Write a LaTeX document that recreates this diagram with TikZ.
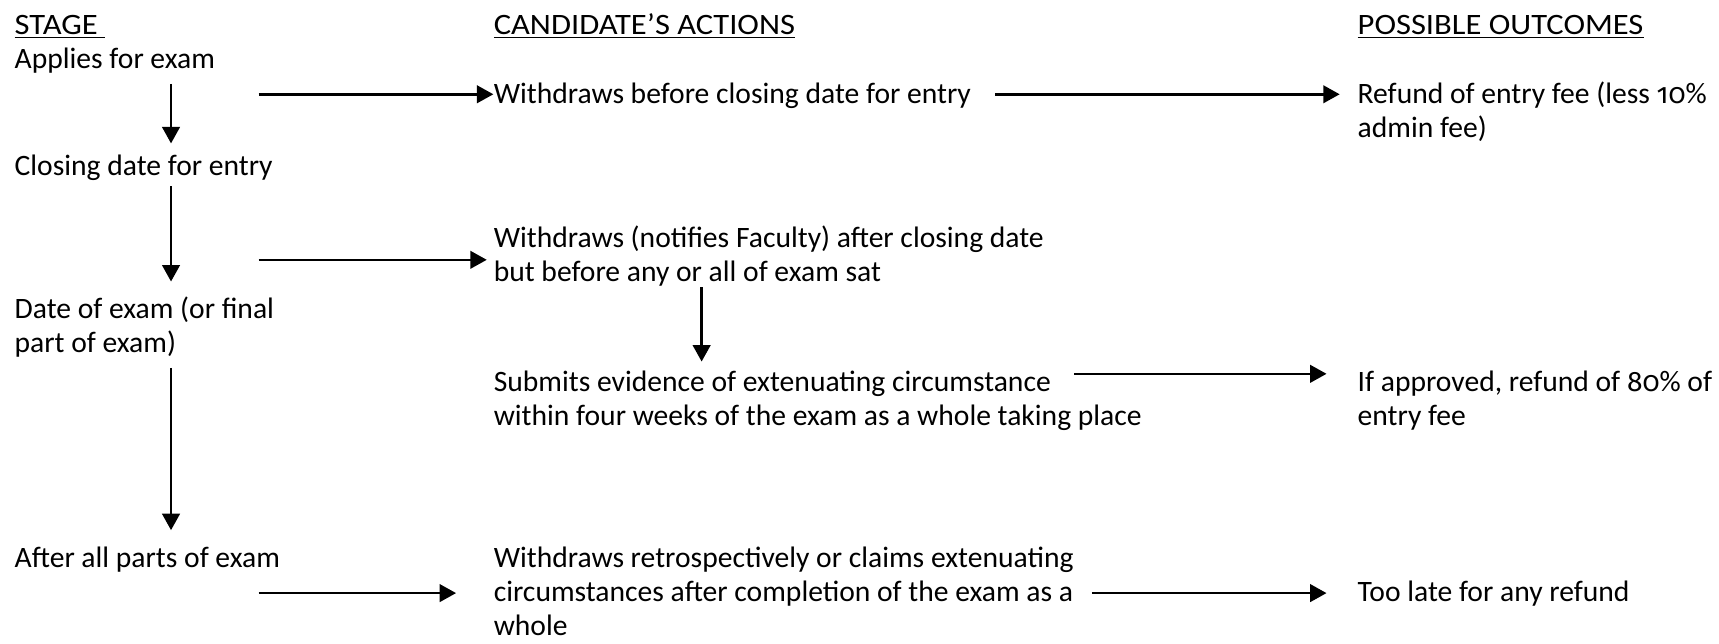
\documentclass[tikz,border=0pt]{standalone}
\usepackage{fontspec}
\setmainfont{Carlito}
\newfontfamily\headfont{Carlito}[FakeStretch=1.1]
\newfontfamily\numfont{Fira Sans}[Numbers=OldStyle, Scale=0.95]
\usetikzlibrary{arrows.meta}

\begin{document}
\begin{tikzpicture}[x=0.5pt, y=-0.5pt,
	every node/.style={anchor=north west, inner sep=0pt, align=left, font=\fontsize{13.5}{15.5}\selectfont},
	head/.style={font=\fontsize{13.5}{15.5}\selectfont\headfont},
	>={Triangle[length=7.5pt,width=8pt]}, arr/.style={->, line width=1.15pt}]
	\useasboundingbox (0,0) rectangle (1568,587);
	% headings
	\node[head] (hstage) at (13,9) {\strut\underline{STAGE\ }};
	\node[head] (hact) at (450,9) {\strut\underline{CANDIDATE’S ACTIONS}};
	\node[head] (hout) at (1238,9) {\strut\underline{POSSIBLE OUTCOMES}};
	% stages
	\node (applies) at (13,40) {\strut Applies for exam};
	\node (closing) at (13,138) {\strut Closing date for entry};
	\node (dateexam) at (13,268) {\strut Date of exam (or final\\part of exam)};
	\node (afterall) at (13,496) {\strut After all parts of exam};
	% actions
	\node (wbefore) at (450,72) {\strut Withdraws before closing date for entry};
	\node (wafter) at (450,204) {\strut Withdraws (notifies Faculty) after closing date\\but before any or all of exam sat};
	\node (submits) at (450,335) {\strut Submits evidence of extenuating circumstance\\within four weeks of the exam as a whole taking place};
	\node (wretro) at (450,496) {\strut Withdraws retrospectively or claims extenuating\\circumstances after completion of the exam as a\\whole};
	% outcomes
	\node (refund) at (1238,72) {\strut Refund of entry fee (less {\numfont 10}\%\\admin fee)};
	\node (approved) at (1238,335) {\strut If approved, refund of {\numfont 80}\% of\\entry fee};
	\node (toolate) at (1238,527) {\strut Too late for any refund};
	% free ends
	\coordinate (stem) at (156,0);
	\coordinate (aA) at (236,86);
	\coordinate (aB) at (908,86);
	\coordinate (aC) at (236,237);
	\coordinate (aE) at (980,341);
	\coordinate (aF) at (236,541);
	\coordinate (aG) at (996,541);
	% down the stages
	\draw[arr, shorten <=2.3pt, shorten >=3.6pt] (applies.south -| stem) -- (closing.north -| stem);
	\draw[arr, shorten >=5.6pt] (closing.south -| stem) -- (dateexam.north -| stem);
	\draw[arr, shorten <=4.8pt, shorten >=6.2pt] (dateexam.south -| stem) -- (afterall.north -| stem);
	\draw[arr, shorten >=2.6pt] (wafter.south -| 640,0) -- (submits.north -| 640,0);
	% across
	\draw[arr] (aA) -- (aA -| wbefore.west);
	\draw[arr, shorten >=8pt] (aB) -- (aB -| refund.west);
	\draw[arr, shorten >=3pt] (aC) -- (aC -| wafter.west);
	\draw[arr, shorten >=14pt] (aE) -- (aE -| approved.west);
	\draw[arr, shorten >=17pt] (aF) -- (aF -| wretro.west);
	\draw[arr, shorten >=14pt] (aG) -- (aG -| toolate.west);
\end{tikzpicture}
\end{document}
